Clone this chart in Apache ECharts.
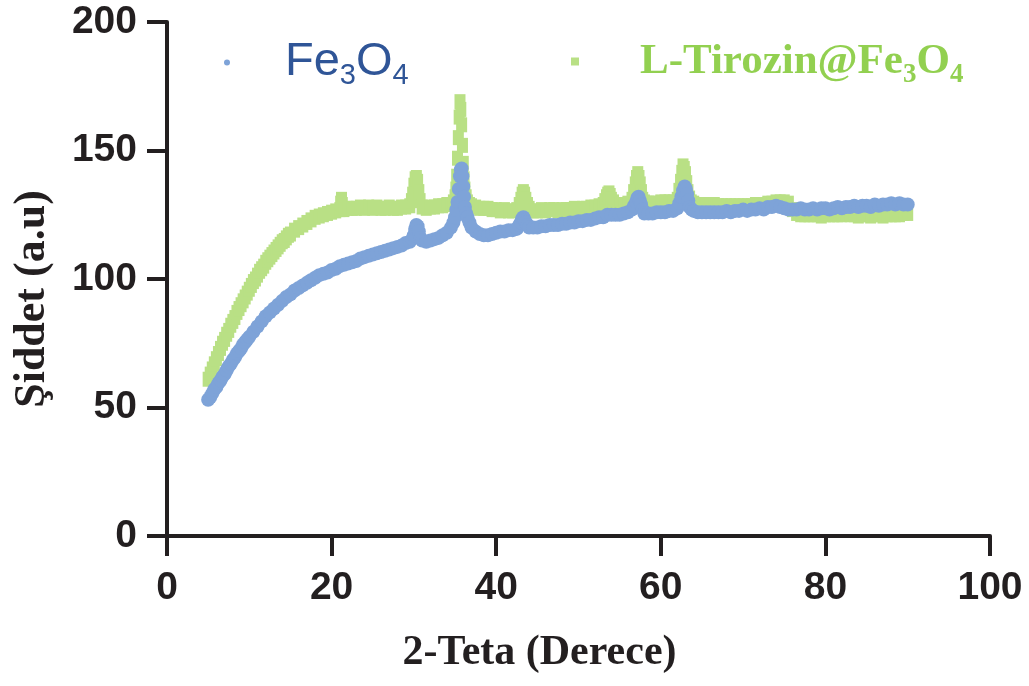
<!DOCTYPE html>
<html>
<head>
<meta charset="utf-8">
<title>XRD</title>
<script src="https://cdn.jsdelivr.net/npm/echarts@6/dist/echarts.min.js"></script>
<style>
  html, body { margin: 0; padding: 0; background: #fff; }
  #chart { width: 1029px; height: 686px; }
</style>
</head>
<body>
<div id="chart"></div>
<script>
// Fe3O4 (mavi): [2 teta, siddet]
var fe3o4Points = [
  [5.0,53],[5.25,54],[5.5,55.5],[5.75,57],[6.0,58],[6.25,59.5],[6.5,60.5],[6.75,62],[7.0,63],[7.25,64.5],
  [7.5,66],[7.75,67],[8.0,68.5],[8.25,69.5],[8.5,71],[8.75,72],[9.0,73],[9.25,74.5],[9.5,75.5],[9.75,76.5],
  [10.0,77.5],[10.5,79.5],[11.0,81.5],[11.5,83.5],[12.0,85.5],[12.5,87],[13.0,88.5],[13.5,90],[14.0,91.5],[14.5,93],
  [15.0,94],[15.5,95.5],[16.0,96.5],[16.5,97.5],[17.0,98.5],[17.5,99.5],[18.0,100.5],[18.5,101.5],[19.0,102],[19.5,102.5],
  [20.0,103.5],[20.5,104],[21.0,105],[21.5,105.5],[22.0,106],[22.5,106.5],[23.0,107],[23.5,108],[24.0,108.5],[24.5,109],
  [25.0,109.5],[25.5,110],[26.0,110.5],[26.5,111],[27.0,111.5],[27.5,112],[28.0,112.5],[28.5,113],[29.0,114],[29.5,114.5],
  [29.8,115.5],[30.0,117],[30.15,119.5],[30.3,121],[30.45,120.5],[30.6,118.5],[30.8,116],[31.0,115],[31.5,114.5],[32.0,115],
  [32.5,115.5],[33.0,116],[33.5,117],[34.0,118],[34.5,120],[34.8,122],[35.0,124],[35.15,127],[35.3,130],[35.45,135],
  [35.6,140],[35.7,142.5],[35.8,143],[35.9,140],[36.0,136],[36.1,132],[36.2,128],[36.35,125.5],[36.5,124],[36.75,122],
  [37.0,120],[37.5,118.5],[38.0,117.5],[38.5,117],[39.0,117],[39.5,117.5],[40.0,118],[40.5,118.5],[41.0,118.5],[41.5,119],
  [42.0,119],[42.5,119.5],[42.8,121],[43.0,122],[43.15,123.5],[43.3,124],[43.45,123],[43.6,122],[43.8,121],[44.0,120],
  [44.5,120],[45.0,120],[45.5,120.5],[46.0,120.5],[46.5,121],[47.0,121],[47.5,121],[48.0,121.5],[48.5,121.5],[49.0,122],
  [49.5,122],[50.0,122.5],[50.5,122.5],[51.0,123],[51.5,123],[52.0,123.5],[52.5,124],[53.0,124],[53.5,125],[54.0,125],
  [54.5,125],[55.0,125],[55.5,125.5],[56.0,126],[56.5,127],[56.75,128.5],[57.0,130],[57.15,131.5],[57.3,132],[57.45,130.5],
  [57.6,129],[57.8,127],[58.0,125.5],[58.5,125.5],[59.0,125.5],[59.5,126],[60.0,126],[60.5,126],[61.0,126.5],[61.5,126.5],
  [62.0,127.5],[62.25,129.5],[62.5,132],[62.7,134.5],[62.9,136],[63.05,135],[63.2,133],[63.35,130.5],[63.5,128],[63.75,127],
  [64.0,126.5],[64.5,126],[65.0,126],[65.5,126],[66.0,126],[66.5,126],[67.0,126],[67.5,126],[68.0,126.5],[68.5,126],
  [69.0,126.5],[69.5,126.5],[70.0,127],[70.5,126.5],[71.0,127],[71.5,127],[72.0,127.5],[72.5,127],[73.0,128],[73.5,128],
  [74.0,128.5],[74.5,128],[75.0,127.5],[75.5,127],[76.0,127],[76.5,127],[77.0,127.5],[77.5,127],[78.0,127],[78.5,127.5],
  [79.0,127],[79.5,127.5],[80.0,127.5],[80.5,127],[81.0,127.5],[81.5,128],[82.0,127.5],[82.5,128],[83.0,128],[83.5,128.5],
  [84.0,128],[84.5,128.5],[85.0,128.5],[85.5,128],[86.0,129],[86.5,128.5],[87.0,129],[87.5,129],[88.0,129.5],[88.5,129],
  [89.0,129.5],[89.5,129],[90.0,129]
];

// L-Tirozin@Fe3O4 (yesil): [2 teta, siddet]
var tirozinPoints = [
  [5.0,61],[5.25,63],[5.5,65],[5.75,67],[6.0,69],[6.25,71],[6.5,73],[6.75,75],[7.0,76.5],[7.25,78.5],
  [7.5,80],[7.75,82],[8.0,83.5],[8.25,85],[8.5,87],[8.75,88.5],[9.0,90],[9.25,91.5],[9.5,93],[9.75,94.5],
  [10.0,96],[10.25,97.5],[10.5,99],[10.75,100],[11.0,101.5],[11.25,103],[11.5,104],[11.75,105],[12.0,106.5],[12.25,107.5],
  [12.5,108.5],[12.75,109.5],[13.0,110.5],[13.25,111.5],[13.5,112.5],[13.75,113.5],[14.0,114.5],[14.25,115],[14.5,116],[14.75,117],
  [15.0,117.5],[15.5,119],[16.0,120],[16.5,121],[17.0,122],[17.5,123],[18.0,124],[18.5,124.5],[19.0,125],[19.5,125.5],
  [20.0,126],[20.5,126.5],[21.0,127],[21.1,129.5],[21.2,131],[21.3,129],[21.5,127],[22.0,127.5],[22.5,127.5],[23.0,127.5],
  [23.5,128],[24.0,127.5],[24.5,128],[25.0,127.5],[25.5,128],[26.0,127.5],[26.5,127.5],[27.0,128],[27.5,127.5],[28.0,127.5],
  [28.5,128],[29.0,128],[29.5,128.5],[29.7,130.5],[29.85,133],[30.0,136.5],[30.15,139],[30.3,139.5],[30.45,138],[30.6,134],
  [30.75,130.5],[31.0,128],[31.5,127.5],[32.0,128],[32.5,128],[33.0,128.5],[33.5,128.5],[34.0,129],[34.5,129],[34.8,130],
  [35.0,132],[35.1,135],[35.2,140],[35.3,147],[35.4,155],[35.5,163],[35.6,169],[35.7,166],[35.8,160],[35.9,152],
  [36.0,145],[36.1,139],[36.2,135],[36.35,132],[36.5,130],[36.75,129],[37.0,128.5],[37.5,128],[38.0,127.5],[38.5,127.5],
  [39.0,127.5],[39.5,127],[40.0,127],[40.5,126.5],[41.0,127],[41.5,126.5],[42.0,126.5],[42.5,127],[42.8,129],[43.0,131],
  [43.15,133],[43.3,134],[43.45,133],[43.6,131],[43.8,129],[44.0,127.5],[44.5,126.5],[45.0,126.5],[45.5,127],[46.0,126.5],
  [46.5,127],[47.0,127],[47.5,126.5],[48.0,127],[48.5,127],[49.0,127],[49.5,127.5],[50.0,127],[50.5,127.5],[51.0,127.5],
  [51.5,128],[52.0,128],[52.5,128.5],[53.0,129],[53.2,130.5],[53.4,132],[53.55,133],[53.7,133.5],[53.85,132.5],[54.0,131],
  [54.25,130],[54.5,129],[55.0,129],[55.5,129],[56.0,129.5],[56.5,131],[56.7,134],[56.9,137],[57.05,139.5],[57.2,141],
  [57.35,139.5],[57.5,137],[57.65,134],[57.8,131],[58.0,130],[58.2,129.5],[58.5,129.5],[59.0,129.5],[59.5,129.5],[60.0,130],
  [60.5,130],[61.0,130],[61.5,130],[62.0,131],[62.2,134.5],[62.4,138],[62.55,141.5],[62.7,144],[62.85,143],[63.0,141],
  [63.15,137.5],[63.3,134],[63.5,131.5],[63.7,130],[64.0,129.5],[64.5,129],[65.0,129],[65.5,129],[66.0,129],[66.5,129],
  [67.0,128.5],[67.5,128.5],[68.0,128.5],[68.5,128.5],[69.0,128.5],[69.5,128.5],[70.0,128.5],[70.5,128.5],[71.0,128.5],[71.5,129],
  [72.0,129],[72.5,129],[73.0,129.5],[73.5,129.5],[74.0,130],[74.5,130],[75.0,130],[75.5,129.5],[76.0,127],[76.5,125.5],
  [77.0,125],[77.5,125],[78.0,125],[78.5,125],[79.0,125],[79.5,124.5],[80.0,125],[80.5,125],[81.0,125],[81.5,125],
  [82.0,125],[82.5,125.5],[83.0,125],[83.5,125],[84.0,124.5],[84.5,125],[85.0,125],[85.5,124.5],[86.0,125],[86.5,125],
  [87.0,124.5],[87.5,125],[88.0,125],[88.5,125],[89.0,125],[89.5,125.5],[90.0,125.5]
];

var xTicks = { min: 0, max: 100, interval: 20 };
var yTicks = { min: 0, max: 200, interval: 50 };

var ink = '#231f20';
var chart = echarts.init(document.getElementById('chart'));

chart.setOption({
  animation: false,
  grid: { left: 167, right: 39, top: 22, bottom: 150 },
  legend: [
    {
      left: 219, top: 34,
      itemWidth: 6, itemHeight: 6,
      data: [{ name: 'Fe3O4', icon: 'circle' }],
      formatter: function () { return '{a|Fe}{b|3}{a|O}{b|4}'; },
      textStyle: {
        padding: [0, 0, 0, 50],
        rich: {
          a: { fontFamily: 'Liberation Sans', fontSize: 47, lineHeight: 56, color: '#2f5597' },
          b: { fontFamily: 'Liberation Sans', fontSize: 29, lineHeight: 56, verticalAlign: 'bottom', color: '#2f5597' }
        }
      }
    },
    {
      left: 566, top: 35,
      itemWidth: 8, itemHeight: 8,
      data: [{ name: 'L-Tirozin@Fe3O4', icon: 'rect' }],
      formatter: function () { return '{a|L-Tirozin@Fe}{b|3}{a|O}{b|4}'; },
      textStyle: {
        padding: [0, 0, 0, 56],
        rich: {
          a: { fontFamily: 'Liberation Serif', fontWeight: 'bold', fontSize: 43, lineHeight: 54, color: '#92d050' },
          b: { fontFamily: 'Liberation Serif', fontWeight: 'bold', fontSize: 27, lineHeight: 54, verticalAlign: 'bottom', color: '#92d050' }
        }
      }
    }
  ],
  xAxis: {
    type: 'value',
    min: xTicks.min, max: xTicks.max, interval: xTicks.interval,
    name: '2-Teta (Derece)',
    nameLocation: 'middle',
    nameGap: 96,
    nameTextStyle: {
      fontFamily: 'Liberation Serif', fontWeight: 'bold', fontSize: 42, color: ink,
      padding: [0, 78, 0, 0]
    },
    splitLine: { show: false },
    axisLine: { lineStyle: { color: ink, width: 4 } },
    axisTick: { inside: false, length: 20, lineStyle: { color: ink, width: 4 } },
    axisLabel: { margin: 33, fontFamily: 'Liberation Sans', fontWeight: 'bold', fontSize: 39, color: ink }
  },
  yAxis: {
    type: 'value',
    min: yTicks.min, max: yTicks.max, interval: yTicks.interval,
    name: 'Şiddet (a.u)',
    nameLocation: 'middle',
    nameGap: 112,
    nameTextStyle: {
      fontFamily: 'Liberation Serif', fontWeight: 'bold', fontSize: 44, color: ink,
      padding: [0, 40, 0, 0]
    },
    splitLine: { show: false },
    axisLine: { show: true, lineStyle: { color: ink, width: 4 } },
    axisTick: { show: true, inside: false, length: 20, lineStyle: { color: ink, width: 4 } },
    axisLabel: { margin: 30, fontFamily: 'Liberation Sans', fontWeight: 'bold', fontSize: 39, color: ink }
  },
  series: [
    {
      name: 'L-Tirozin@Fe3O4',
      type: 'scatter',
      symbol: 'rect',
      symbolSize: [11, 15],
      itemStyle: { color: '#b9e085', opacity: 1 },
      data: tirozinPoints
    },
    {
      name: 'Fe3O4',
      type: 'scatter',
      symbol: 'circle',
      symbolSize: 14,
      itemStyle: { color: '#7ea3d8', opacity: 1 },
      data: fe3o4Points
    }
  ]
});
</script>
</body>
</html>
